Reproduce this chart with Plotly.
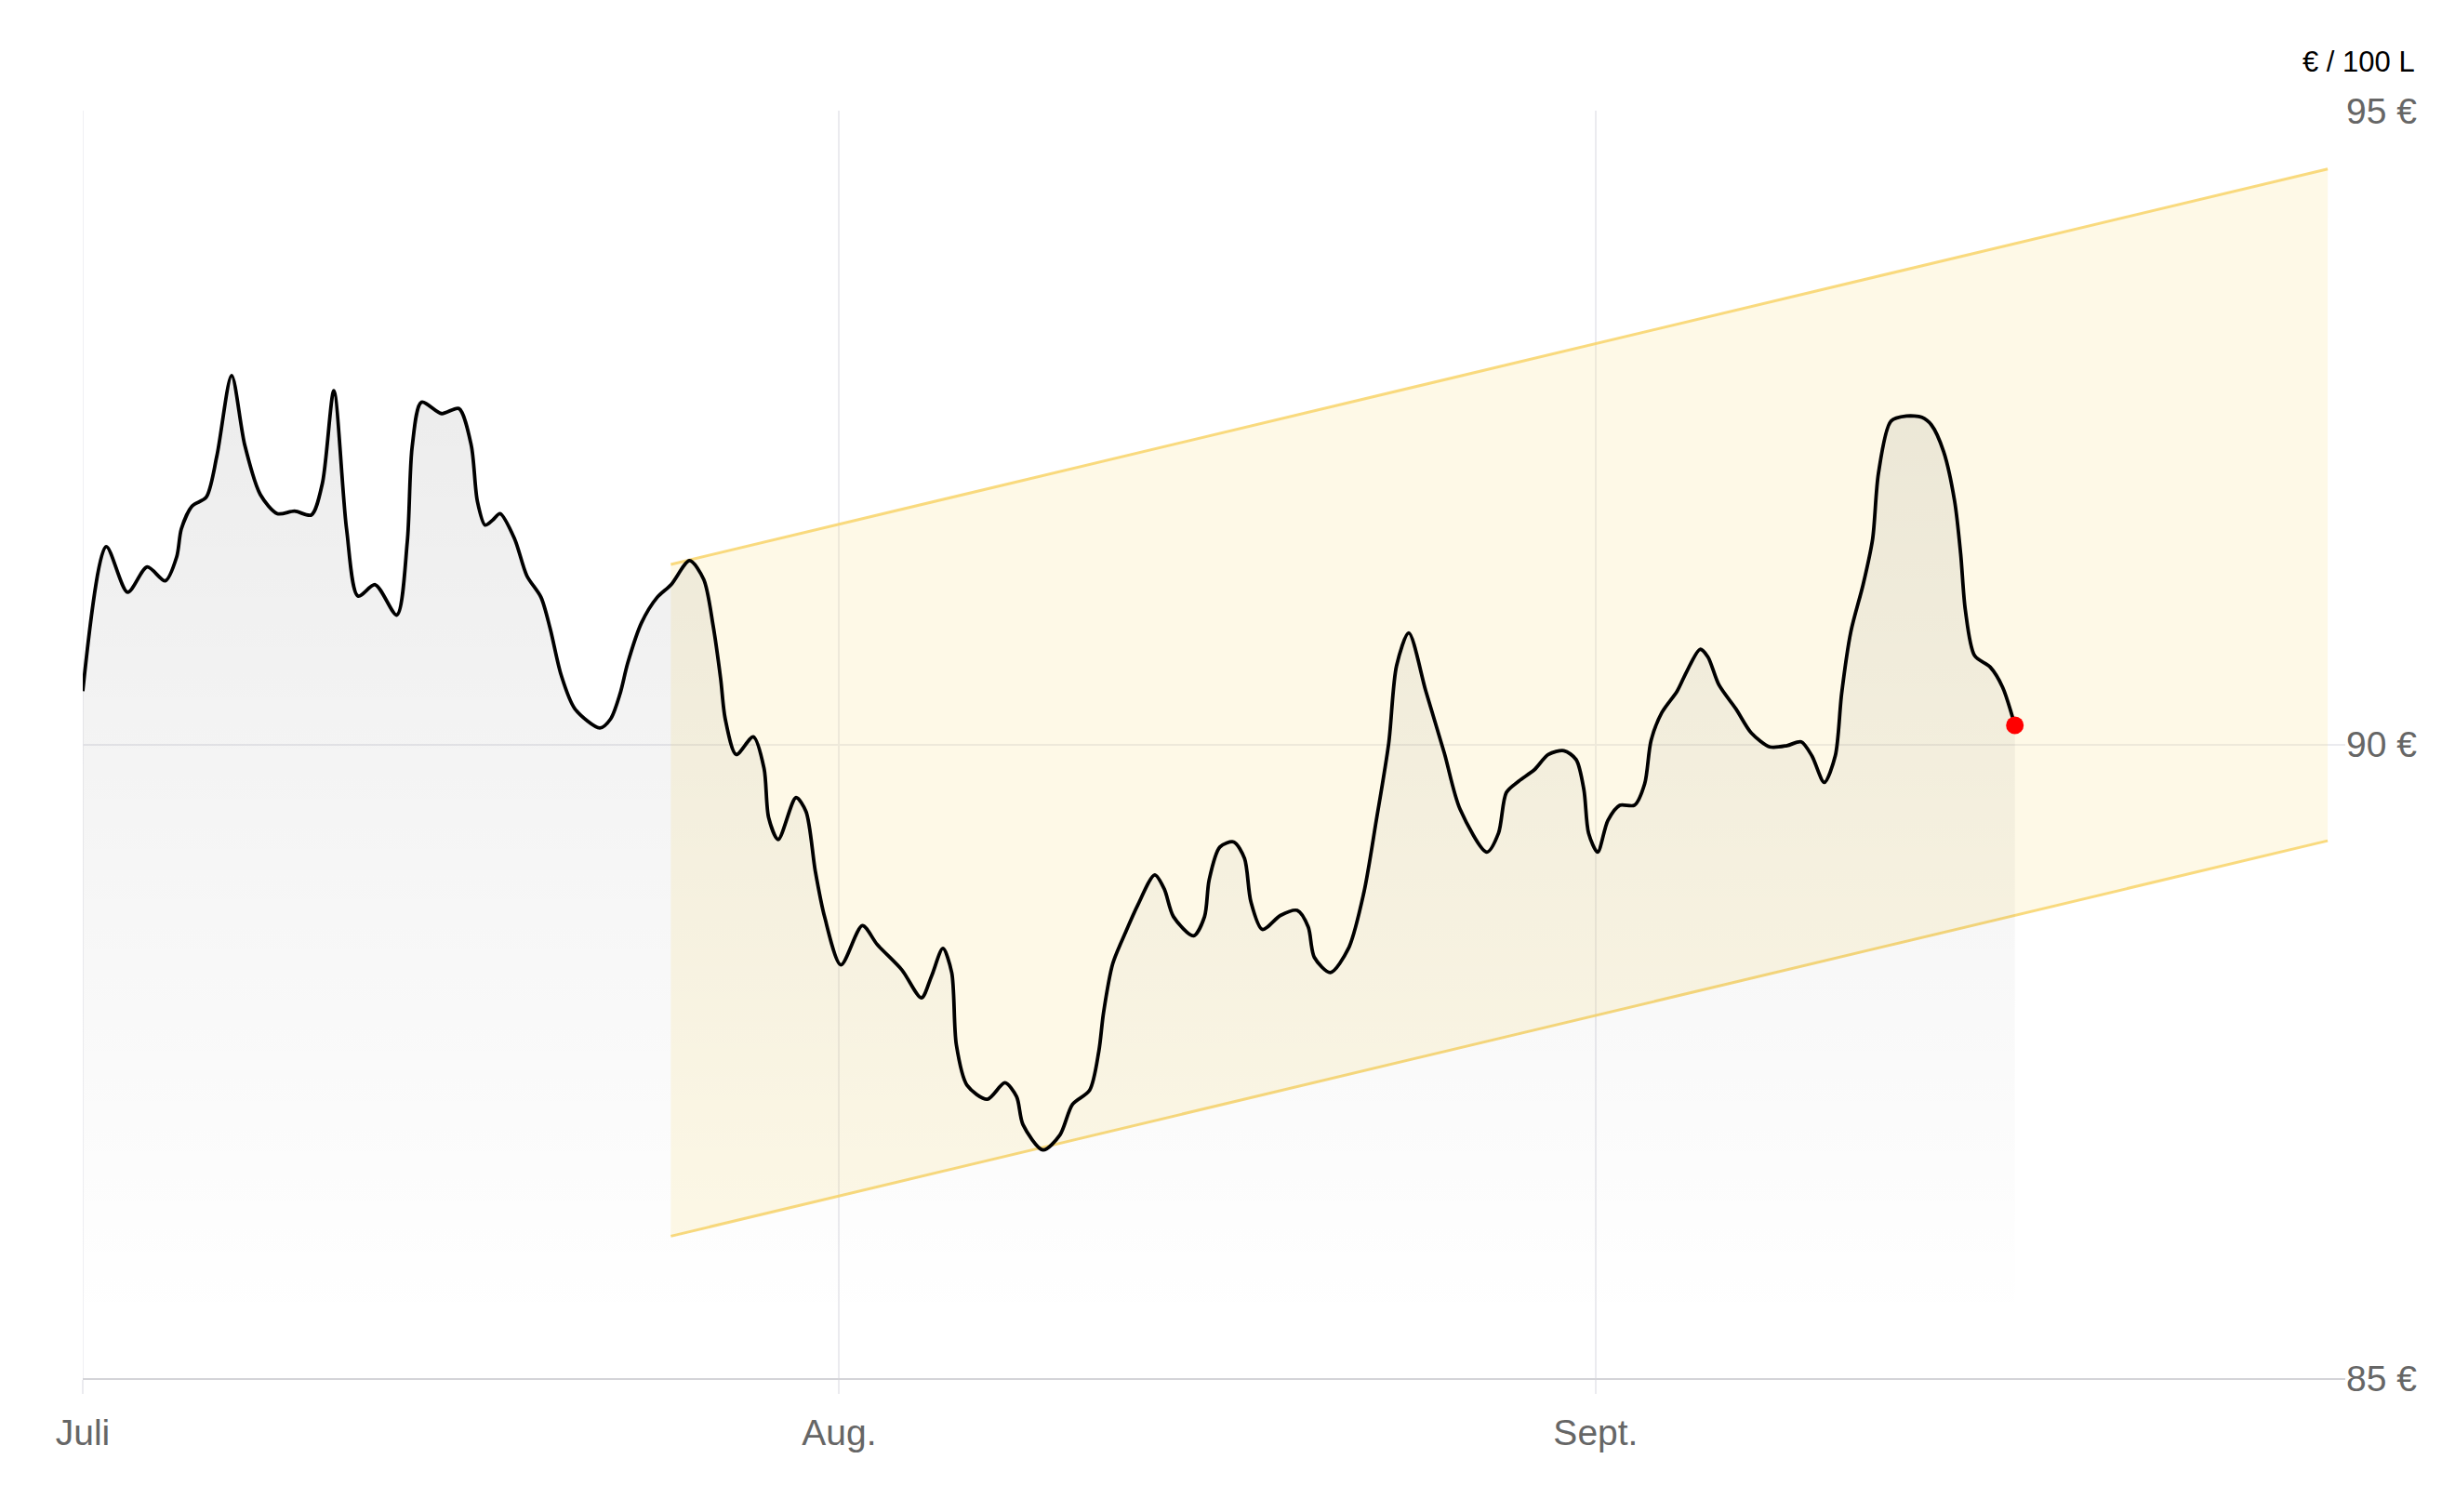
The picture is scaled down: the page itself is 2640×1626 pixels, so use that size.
import pandas as pd
import plotly.graph_objects as go

# ---------------- data ----------------
START = pd.Timestamp("2024-07-01")

# price line: day offset from 1 July, price in € / 100 L
price_day = [0.00, 0.96, 1.84, 2.64, 3.38, 3.85, 4.04, 4.48, 5.06, 5.50, 6.10, 6.64, 7.28,
             7.98, 8.68, 9.37, 9.82, 10.29, 10.81, 11.28, 11.98, 12.87, 13.30, 13.50, 13.88,
             14.71, 15.41, 15.92, 16.17, 16.49, 16.80, 17.10, 17.70, 18.20, 18.78, 19.16,
             19.60, 20.17, 21.19, 21.63, 22.02, 22.33, 22.90, 23.54, 24.11, 24.87, 25.45,
             25.83, 26.14, 26.33, 26.78, 27.48, 27.92, 28.11, 28.50, 29.23, 29.64, 30.02,
             30.40, 31.07, 31.95, 32.56, 33.57, 34.37, 34.78, 35.25, 35.61, 35.80, 36.24,
             37.07, 37.79, 38.27, 38.53, 39.35, 40.05, 40.56, 41.26, 41.64, 41.83, 42.21,
             42.72, 43.23, 43.93, 44.32, 44.70, 45.52, 45.97, 46.16, 46.60, 47.17, 47.61,
             47.87, 48.34, 49.08, 49.77, 50.22, 50.47, 51.13, 51.87, 52.50, 53.01, 53.52,
             53.84, 54.34, 55.04, 55.80, 56.44, 57.54, 58.02, 58.34, 58.85, 59.49, 60.06,
             60.70, 61.20, 61.52, 61.71, 62.08, 62.50, 62.99, 63.59, 64.01, 64.27, 64.71,
             65.34, 65.72, 66.28, 66.60, 67.05, 67.75, 68.38, 69.14, 69.84, 70.42, 70.86,
             71.37, 71.82, 72.08, 72.46, 72.96, 73.35, 73.59, 74.10, 74.74, 75.37, 75.76,
             76.26, 76.71, 76.96, 77.15, 77.53, 78.17, 78.68, 79.18]
price_val = [90.42, 91.56, 91.20, 91.40, 91.29, 91.48, 91.70, 91.88, 91.95, 92.28, 92.91, 92.36, 91.97,
             91.82, 91.84, 91.81, 92.06, 92.79, 91.70, 91.17, 91.26, 91.02, 91.60, 92.35, 92.70,
             92.61, 92.65, 92.36, 91.92, 91.73, 91.77, 91.82, 91.62, 91.33, 91.16, 90.91,
             90.55, 90.28, 90.13, 90.20, 90.40, 90.64, 90.96, 91.16, 91.26, 91.45, 91.30,
             90.94, 90.52, 90.20, 89.92, 90.06, 89.81, 89.42, 89.25, 89.58, 89.47, 89.00,
             88.64, 88.26, 88.57, 88.42, 88.22, 88.00, 88.17, 88.39, 88.20, 87.63, 87.31,
             87.20, 87.33, 87.22, 87.00, 86.80, 86.92, 87.16, 87.27, 87.58, 87.88, 88.27,
             88.51, 88.73, 88.97, 88.86, 88.64, 88.49, 88.64, 88.93, 89.19, 89.23, 89.10,
             88.76, 88.54, 88.65, 88.69, 88.56, 88.32, 88.20, 88.39, 88.83, 89.40, 90.01,
             90.62, 90.88, 90.42, 89.93, 89.49, 89.15, 89.30, 89.62, 89.71, 89.80, 89.92,
             89.95, 89.88, 89.64, 89.30, 89.15, 89.40, 89.52, 89.52, 89.69, 90.03, 90.25,
             90.42, 90.57, 90.75, 90.69, 90.47, 90.28, 90.09, 89.98, 89.99, 90.02, 89.91,
             89.70, 89.91, 90.40, 90.89, 91.26, 91.62, 92.14, 92.55, 92.59, 92.58, 92.52,
             92.31, 91.92, 91.50, 91.06, 90.70, 90.61, 90.45, 90.15]

# trend channel
band_day = [24.1, 92.0]
band_upper = [91.42, 94.54]
band_lower = [86.12, 89.24]

# axes
x_tick_dates = ["2024-07-01", "2024-08-01", "2024-09-01"]
x_tick_text = ["Juli", "Aug.", "Sept."]
y_tick_vals = [85, 90, 95]
y_tick_text = ["85 €", "90 €", "95 €"]
unit_label = "€ / 100 L"

# ---------------- figure ----------------
px_dates = START + pd.to_timedelta(price_day, unit="D")
band_dates = START + pd.to_timedelta(band_day, unit="D")

FONT = "Liberation Sans, Arial, sans-serif"
BAND_LINE = "rgba(248, 212, 105, 0.85)"
BAND_FILL = "rgba(252, 226, 135, 0.2)"
GRID = "#ebebef"

fig = go.Figure()

fig.add_trace(go.Scatter(x=band_dates, y=band_lower, mode="lines",
                         line=dict(color=BAND_LINE, width=3), hoverinfo="skip",
                         showlegend=False))
fig.add_trace(go.Scatter(x=band_dates, y=band_upper, mode="lines",
                         line=dict(color=BAND_LINE, width=3), fill="tonexty",
                         fillcolor=BAND_FILL, hoverinfo="skip", showlegend=False))

fig.add_trace(go.Scatter(
    x=px_dates, y=price_val, mode="lines",
    line=dict(color="#000000", width=3.8, shape="spline", smoothing=0.8),
    fill="tozeroy",
    fillgradient=dict(type="vertical",
                      colorscale=[[0, "rgba(0,0,0,0)"], [1, "rgba(0,0,0,0.075)"]],
                      start=85.4, stop=93.0),
    showlegend=False))

fig.add_trace(go.Scatter(x=[px_dates[-1]], y=[price_val[-1]], mode="markers",
                         marker=dict(color="#ff0000", size=19), showlegend=False))

x_end = START + pd.to_timedelta(92.72, unit="D")

# page body has an 8px margin: figure placed at (8, 8)
fig.update_layout(
    width=2624, height=1610,
    margin=dict(l=81, r=110, t=111, b=136),
    paper_bgcolor="white", plot_bgcolor="white",
    font=dict(family=FONT, size=39, color="#666666"),
    showlegend=False,
    xaxis=dict(
        type="date", range=[START, x_end],
        tickvals=x_tick_dates, ticktext=x_tick_text,
        showgrid=True, gridcolor=GRID, gridwidth=1.5,
        ticks="outside", ticklen=15, tickcolor=GRID, tickwidth=1.5,
        showline=True, linecolor="#d4d4d8", linewidth=2,
        tickfont=dict(family=FONT, size=39, color="#666666"),
        ticklabelstandoff=8,
        zeroline=False, fixedrange=True,
    ),
    yaxis=dict(
        range=[85, 95], side="right",
        tickvals=y_tick_vals, ticktext=y_tick_text,
        showgrid=True, gridcolor=GRID, gridwidth=2,
        ticks="", showline=False, zeroline=False,
        tickfont=dict(family=FONT, size=39, color="#666666"),
        fixedrange=True,
    ),
    shapes=[dict(type="line", xref="x", yref="y", x0=START, x1=START, y0=85, y1=95,
                 line=dict(color=GRID, width=1.5), layer="below")],
    annotations=[dict(text=unit_label, xref="paper", yref="paper",
                      x=1.0316, y=1.0384, xanchor="right", yanchor="middle",
                      showarrow=False,
                      font=dict(family=FONT, size=31, color="#000000"))],
)

fig.write_html("out.html")
